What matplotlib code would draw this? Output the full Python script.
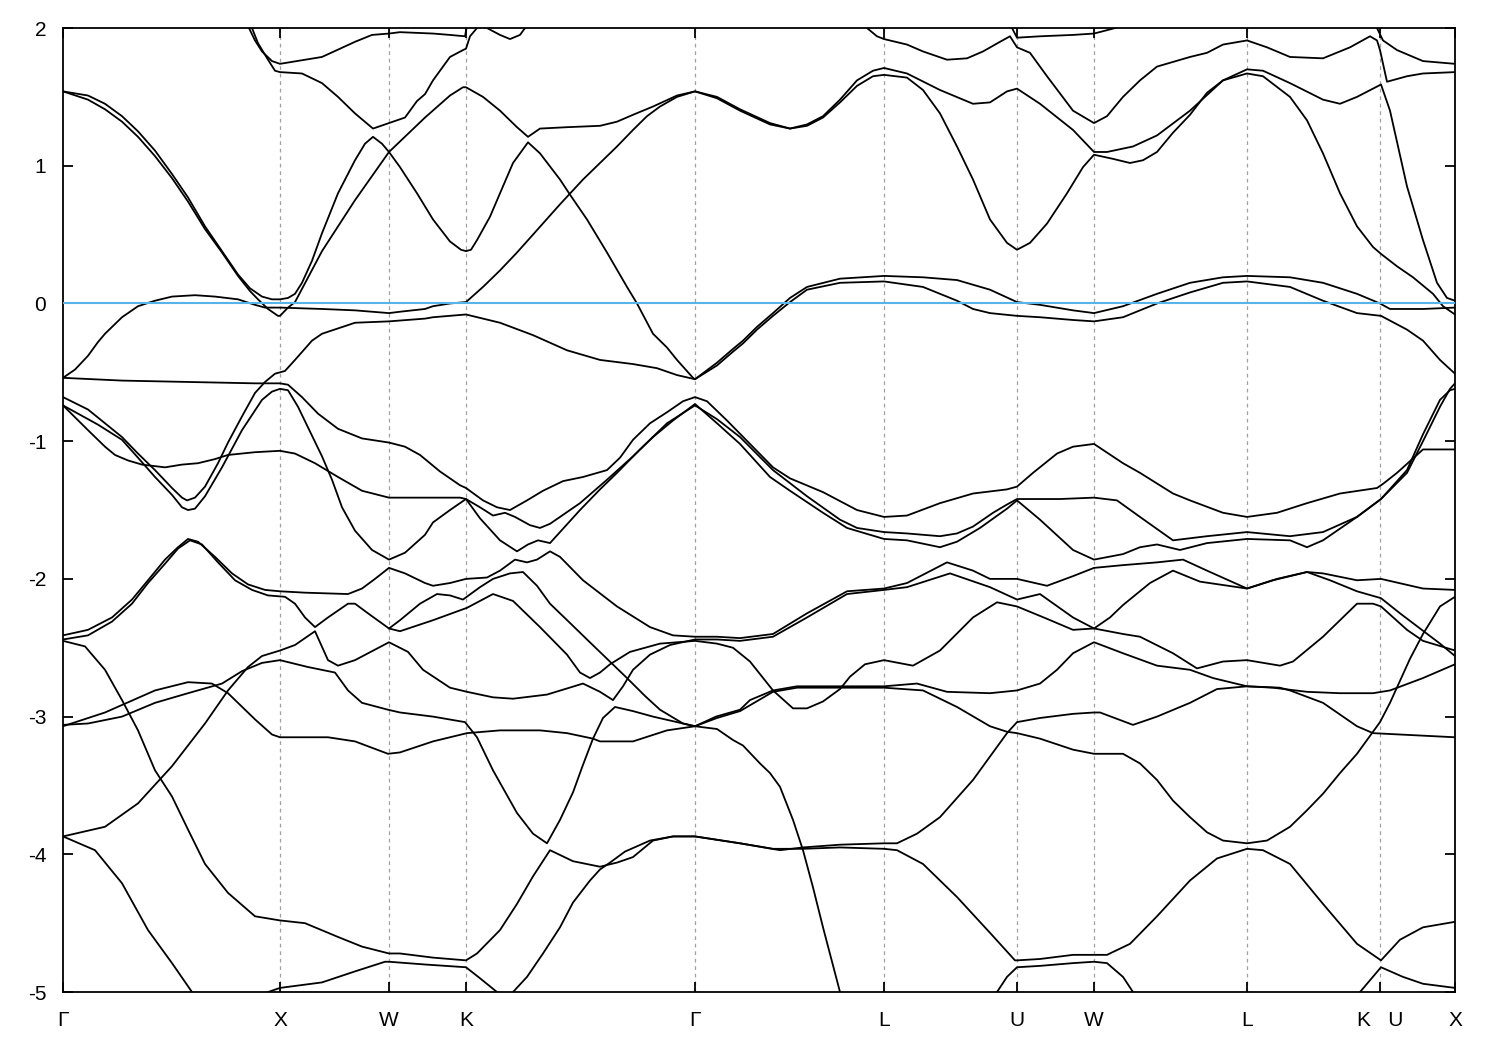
import matplotlib
matplotlib.use("Agg")
import matplotlib.pyplot as plt

plt.rcParams['font.family'] = ['Liberation Sans', 'DejaVu Sans']
plt.rcParams['axes.unicode_minus'] = False

# k-path: positions of the high-symmetry points (path distance, arb. units)
sym_pos = [0, 217, 326, 403, 632, 821, 954, 1031, 1184, 1317, 1392]
sym_labels = ['Γ', 'X', 'W', 'K', 'Γ', 'L', 'U', 'W', 'L', 'K   U', 'X']
e_ticks = [-5, -4, -3, -2, -1, 0, 1, 2]
e_fermi = 0.0

# bands: (k, E in eV)
band_01 = [(0, 1.54), (25, 1.51), (42, 1.45), (59, 1.36), (75, 1.25), (92, 1.11), (109, 0.94), (125, 0.77),
           (142, 0.56), (159, 0.38), (175, 0.21), (187, 0.11), (199, 0.05), (209, 0.03), (217, 0.03), (225, 0.04),
           (232, 0.07), (239, 0.15), (249, 0.31), (259, 0.51), (275, 0.80), (292, 1.04), (302, 1.16), (310, 1.21),
           (319, 1.16), (326, 1.10), (337, 0.99), (354, 0.80), (370, 0.61), (387, 0.45), (398, 0.39), (403, 0.38),
           (408, 0.39), (414, 0.46), (427, 0.63), (437, 0.80), (450, 1.02), (465, 1.17), (477, 1.09), (497, 0.90),
           (507, 0.79), (524, 0.61), (544, 0.37), (564, 0.12), (574, 0.0), (590, -0.22), (604, -0.32), (614, -0.41),
           (630, -0.54), (632, -0.55), (654, -0.43), (670, -0.33), (680, -0.27), (694, -0.17), (710, -0.07),
           (727, 0.04), (744, 0.12), (777, 0.18), (821, 0.20), (860, 0.19), (894, 0.17), (927, 0.10), (954, 0.01),
           (977, -0.01), (1010, -0.05), (1031, -0.07), (1060, -0.02), (1094, 0.07), (1127, 0.15), (1160, 0.19),
           (1184, 0.20), (1227, 0.19), (1260, 0.15), (1294, 0.07), (1317, 0.0), (1327, -0.04), (1360, -0.04),
           (1392, -0.03)]
band_02 = [(0, 1.54), (25, 1.48), (42, 1.41), (59, 1.32), (75, 1.21), (92, 1.07), (109, 0.91), (125, 0.74),
           (142, 0.54), (159, 0.37), (175, 0.20), (187, 0.09), (195, 0.03), (205, -0.04), (215, -0.09), (217, -0.09),
           (225, -0.03), (232, 0.01), (259, 0.38), (292, 0.75), (326, 1.10), (362, 1.35), (387, 1.51), (400, 1.57),
           (403, 1.57), (420, 1.50), (437, 1.40), (454, 1.28), (465, 1.21), (477, 1.27), (504, 1.28), (537, 1.29),
           (554, 1.32), (570, 1.37), (590, 1.43), (614, 1.51), (632, 1.54), (654, 1.49), (677, 1.40), (707, 1.30),
           (727, 1.27), (744, 1.29), (760, 1.35), (777, 1.46), (794, 1.58), (810, 1.65), (821, 1.66), (844, 1.64),
           (860, 1.55), (877, 1.38), (894, 1.14), (910, 0.90), (927, 0.61), (944, 0.44), (954, 0.39), (967, 0.44),
           (984, 0.58), (1004, 0.80), (1020, 0.99), (1031, 1.08), (1050, 1.05), (1067, 1.02), (1080, 1.04),
           (1094, 1.10), (1110, 1.24), (1127, 1.37), (1144, 1.53), (1160, 1.62), (1184, 1.67), (1200, 1.65),
           (1227, 1.50), (1244, 1.33), (1260, 1.09), (1277, 0.80), (1294, 0.56), (1310, 0.41), (1318, 0.36),
           (1334, 0.27), (1350, 0.19), (1370, 0.07), (1380, -0.02), (1392, -0.08)]
band_03 = [(0, -0.54), (12, -0.48), (25, -0.38), (35, -0.28), (42, -0.22), (59, -0.10), (75, -0.02), (92, 0.02),
           (109, 0.05), (132, 0.06), (152, 0.05), (175, 0.03), (192, -0.01), (202, -0.03), (217, -0.03), (259, -0.04),
           (292, -0.05), (326, -0.07), (337, -0.06), (362, -0.04), (370, -0.02), (387, 0.0), (403, 0.01), (420, 0.12),
           (437, 0.24), (454, 0.37), (470, 0.50), (497, 0.72), (520, 0.90), (537, 1.02), (554, 1.14), (570, 1.26),
           (584, 1.36), (597, 1.43), (614, 1.50), (632, 1.54), (654, 1.50), (677, 1.41), (707, 1.31), (727, 1.27),
           (744, 1.30), (760, 1.36), (777, 1.48), (794, 1.62), (810, 1.69), (821, 1.71), (844, 1.67), (877, 1.55),
           (910, 1.45), (927, 1.46), (944, 1.54), (954, 1.56), (977, 1.45), (1010, 1.26), (1031, 1.10), (1044, 1.10),
           (1070, 1.14), (1094, 1.22), (1127, 1.40), (1160, 1.62), (1184, 1.70), (1200, 1.69), (1227, 1.60),
           (1260, 1.48), (1277, 1.45), (1294, 1.50), (1318, 1.59), (1327, 1.40), (1344, 0.85), (1360, 0.46),
           (1374, 0.15), (1384, 0.04), (1392, 0.02)]
band_04 = [(0, -0.54), (59, -0.56), (125, -0.57), (192, -0.58), (217, -0.58), (225, -0.59), (239, -0.68),
           (255, -0.80), (275, -0.91), (299, -0.98), (326, -1.01), (342, -1.04), (357, -1.10), (377, -1.22),
           (397, -1.32), (403, -1.34), (420, -1.43), (434, -1.48), (447, -1.50), (464, -1.43), (480, -1.36),
           (500, -1.29), (520, -1.26), (544, -1.21), (557, -1.12), (570, -0.99), (587, -0.87), (604, -0.79),
           (620, -0.71), (632, -0.68), (644, -0.71), (664, -0.85), (687, -1.02), (710, -1.19), (727, -1.27),
           (760, -1.37), (794, -1.50), (821, -1.55), (844, -1.54), (877, -1.45), (910, -1.38), (944, -1.35),
           (954, -1.33), (970, -1.23), (994, -1.09), (1010, -1.04), (1031, -1.02), (1060, -1.16), (1077, -1.23),
           (1110, -1.38), (1127, -1.43), (1160, -1.52), (1184, -1.55), (1214, -1.52), (1244, -1.45), (1277, -1.38),
           (1314, -1.34), (1320, -1.31), (1334, -1.23), (1360, -1.06), (1392, -1.06)]
band_05 = [(0, -0.68), (25, -0.77), (42, -0.87), (59, -0.97), (75, -1.09), (92, -1.21), (109, -1.34), (119, -1.41),
           (124, -1.43), (132, -1.41), (142, -1.33), (155, -1.16), (165, -1.01), (179, -0.82), (192, -0.65),
           (202, -0.57), (212, -0.51), (217, -0.50), (222, -0.49), (232, -0.41), (249, -0.27), (259, -0.22),
           (292, -0.14), (326, -0.13), (362, -0.11), (370, -0.10), (403, -0.08), (420, -0.11), (437, -0.14),
           (470, -0.23), (504, -0.34), (537, -0.41), (570, -0.44), (594, -0.47), (614, -0.52), (632, -0.55),
           (654, -0.45), (670, -0.35), (680, -0.29), (694, -0.19), (710, -0.09), (727, 0.01), (744, 0.10),
           (777, 0.15), (821, 0.16), (860, 0.12), (894, 0.02), (910, -0.04), (927, -0.07), (954, -0.09),
           (977, -0.10), (1010, -0.12), (1031, -0.13), (1060, -0.10), (1094, 0.0), (1127, 0.08), (1160, 0.15),
           (1184, 0.16), (1227, 0.12), (1260, 0.02), (1294, -0.07), (1318, -0.09), (1344, -0.19), (1360, -0.27),
           (1377, -0.41), (1392, -0.51)]
band_06 = [(0, -0.74), (35, -0.88), (59, -0.99), (75, -1.12), (92, -1.26), (109, -1.39), (119, -1.48), (125, -1.50),
           (132, -1.49), (142, -1.40), (159, -1.19), (179, -0.92), (199, -0.70), (209, -0.64), (217, -0.62),
           (225, -0.63), (235, -0.75), (245, -0.90), (259, -1.11), (269, -1.28), (279, -1.48), (292, -1.65),
           (309, -1.79), (326, -1.86), (342, -1.81), (362, -1.68), (370, -1.59), (387, -1.50), (403, -1.42),
           (417, -1.56), (437, -1.72), (454, -1.80), (465, -1.75), (475, -1.72), (487, -1.74), (502, -1.62),
           (517, -1.50), (537, -1.35), (554, -1.23), (577, -1.06), (604, -0.87), (632, -0.74), (654, -0.84),
           (677, -0.97), (710, -1.21), (744, -1.40), (777, -1.57), (794, -1.63), (821, -1.66), (844, -1.67),
           (877, -1.69), (894, -1.67), (910, -1.62), (930, -1.52), (944, -1.46), (954, -1.42), (997, -1.42),
           (1031, -1.41), (1054, -1.43), (1077, -1.55), (1110, -1.72), (1144, -1.69), (1184, -1.66), (1227, -1.69),
           (1260, -1.66), (1294, -1.55), (1318, -1.42), (1344, -1.23), (1360, -1.00), (1377, -0.75), (1387, -0.62),
           (1392, -0.58)]
band_07 = [(0, -0.74), (25, -0.92), (42, -1.04), (52, -1.10), (65, -1.14), (79, -1.17), (102, -1.19), (119, -1.17),
           (135, -1.16), (152, -1.13), (165, -1.10), (192, -1.08), (217, -1.07), (232, -1.09), (252, -1.16),
           (275, -1.26), (299, -1.36), (326, -1.41), (362, -1.41), (397, -1.41), (403, -1.42), (417, -1.48),
           (430, -1.54), (442, -1.52), (452, -1.55), (467, -1.61), (477, -1.63), (487, -1.60), (497, -1.55),
           (517, -1.45), (544, -1.28), (570, -1.11), (590, -0.97), (610, -0.85), (632, -0.73), (654, -0.87),
           (677, -1.02), (707, -1.26), (727, -1.36), (760, -1.52), (784, -1.63), (821, -1.71), (844, -1.72),
           (877, -1.77), (894, -1.73), (917, -1.63), (944, -1.49), (954, -1.43), (977, -1.57), (1010, -1.79),
           (1031, -1.86), (1060, -1.82), (1077, -1.77), (1094, -1.75), (1117, -1.79), (1144, -1.74), (1184, -1.71),
           (1227, -1.72), (1244, -1.77), (1260, -1.72), (1294, -1.55), (1318, -1.42), (1344, -1.21), (1360, -0.95),
           (1377, -0.70), (1387, -0.63), (1392, -0.62)]
band_08 = [(186, 2.0), (192, 1.91), (199, 1.83), (209, 1.76), (217, 1.74), (259, 1.79), (292, 1.90), (309, 1.95),
           (326, 1.96), (337, 1.97), (370, 1.96), (387, 1.95), (402, 1.94), (404, 2.02)]
band_09 = [(189, 2.0), (195, 1.89), (205, 1.77), (212, 1.69), (217, 1.68), (239, 1.67), (259, 1.60), (275, 1.50),
           (292, 1.38), (310, 1.27), (326, 1.31), (342, 1.35), (354, 1.47), (362, 1.52), (370, 1.62), (387, 1.79),
           (400, 1.84), (403, 1.85), (407, 1.94), (414, 2.0)]
band_10 = [(424, 2.0), (437, 1.95), (447, 1.92), (457, 1.95), (462, 2.0)]
band_11 = [(804, 2.0), (814, 1.94), (821, 1.92), (844, 1.88), (860, 1.83), (884, 1.77), (904, 1.78), (920, 1.83),
           (937, 1.90), (947, 1.94), (954, 1.86), (967, 1.82), (984, 1.65), (1010, 1.40), (1031, 1.31), (1044, 1.36),
           (1060, 1.50), (1077, 1.62), (1094, 1.72), (1127, 1.79), (1144, 1.82), (1160, 1.88), (1184, 1.91),
           (1204, 1.86), (1227, 1.79), (1260, 1.78), (1287, 1.86), (1307, 1.94), (1314, 1.91), (1317, 1.84),
           (1324, 1.61), (1344, 1.65), (1360, 1.67), (1392, 1.68)]
band_12 = [(949, 2.0), (954, 1.93), (977, 1.94), (1010, 1.95), (1031, 1.96), (1047, 1.99), (1052, 2.0)]
band_13 = [(1314, 2.0), (1320, 1.91), (1334, 1.84), (1360, 1.76), (1392, 1.74)]
band_14 = [(0, -2.41), (25, -2.37), (49, -2.28), (69, -2.15), (85, -2.01), (102, -1.86), (115, -1.77), (125, -1.71),
           (135, -1.73), (152, -1.84), (169, -1.96), (185, -2.04), (202, -2.08), (217, -2.09), (242, -2.10),
           (285, -2.11), (299, -2.07), (312, -2.00), (326, -1.92), (342, -1.96), (362, -2.03), (370, -2.05),
           (387, -2.03), (403, -2.00), (424, -1.99), (437, -1.94), (452, -1.86), (464, -1.88), (474, -1.86),
           (487, -1.80), (497, -1.84), (520, -2.01), (554, -2.20), (587, -2.35), (610, -2.41), (632, -2.42),
           (654, -2.42), (677, -2.43), (710, -2.40), (744, -2.25), (784, -2.09), (821, -2.07), (844, -2.03),
           (884, -1.88), (910, -1.94), (927, -2.00), (954, -2.00), (984, -2.05), (1010, -1.98), (1031, -1.92),
           (1060, -1.90), (1094, -1.88), (1120, -1.86), (1144, -1.94), (1184, -2.07), (1210, -2.01), (1244, -1.95),
           (1260, -1.96), (1294, -2.01), (1318, -2.00), (1360, -2.07), (1392, -2.08)]
band_15 = [(0, -2.44), (25, -2.41), (49, -2.31), (69, -2.18), (85, -2.03), (102, -1.89), (115, -1.78), (127, -1.72),
           (139, -1.75), (155, -1.88), (172, -2.01), (189, -2.08), (205, -2.12), (222, -2.13), (232, -2.18),
           (242, -2.28), (252, -2.35), (265, -2.28), (285, -2.18), (292, -2.18), (305, -2.25), (326, -2.36),
           (337, -2.38), (370, -2.30), (404, -2.21), (430, -2.11), (450, -2.16), (477, -2.35), (504, -2.55),
           (517, -2.68), (527, -2.72), (537, -2.68), (547, -2.62), (567, -2.53), (597, -2.47), (632, -2.45),
           (654, -2.47), (670, -2.50), (687, -2.60), (710, -2.81), (730, -2.94), (744, -2.94), (760, -2.89),
           (777, -2.80), (787, -2.71), (802, -2.62), (821, -2.59), (850, -2.63), (877, -2.52), (910, -2.28),
           (934, -2.17), (954, -2.20), (984, -2.29), (1010, -2.37), (1031, -2.36), (1047, -2.28), (1060, -2.19),
           (1087, -2.03), (1110, -1.94), (1137, -2.02), (1184, -2.07), (1214, -2.00), (1244, -1.95), (1267, -2.01),
           (1294, -2.09), (1318, -2.14), (1337, -2.25), (1357, -2.36), (1377, -2.47), (1392, -2.56)]
band_16 = [(0, -2.45), (22, -2.49), (42, -2.66), (59, -2.88), (75, -3.10), (92, -3.39), (109, -3.58), (125, -3.82),
           (142, -4.07), (165, -4.28), (192, -4.45), (217, -4.48), (242, -4.50), (275, -4.60), (299, -4.67),
           (326, -4.72), (337, -4.72), (370, -4.75), (403, -4.77), (414, -4.72), (437, -4.55), (454, -4.36),
           (470, -4.16), (487, -3.97), (510, -4.05), (537, -4.09), (554, -4.06), (570, -4.02), (590, -3.90),
           (610, -3.87), (632, -3.87), (677, -3.92), (710, -3.96), (740, -3.96), (777, -3.95), (821, -3.96),
           (834, -3.97), (860, -4.07), (894, -4.31), (927, -4.57), (952, -4.77), (954, -4.77), (977, -4.76),
           (1010, -4.73), (1031, -4.73), (1044, -4.73), (1067, -4.65), (1094, -4.45), (1127, -4.19), (1154, -4.03),
           (1184, -3.96), (1200, -3.97), (1227, -4.07), (1260, -4.36), (1294, -4.65), (1318, -4.77), (1337, -4.62),
           (1360, -4.53), (1392, -4.49)]
band_17 = [(205, -5.0), (217, -4.97), (259, -4.93), (292, -4.85), (322, -4.78), (326, -4.78), (362, -4.80),
           (403, -4.82), (417, -4.90), (434, -5.0)]
band_18 = [(450, -5.0), (464, -4.89), (480, -4.72), (497, -4.53), (510, -4.35), (527, -4.19), (537, -4.11),
           (547, -4.06), (562, -3.98), (587, -3.90), (610, -3.87), (632, -3.87), (677, -3.92), (717, -3.97),
           (740, -3.95), (777, -3.93), (821, -3.92), (834, -3.92), (854, -3.85), (877, -3.73), (910, -3.46),
           (944, -3.12), (954, -3.04), (977, -3.01), (1010, -2.98), (1031, -2.97), (1037, -2.97), (1070, -3.06),
           (1094, -3.00), (1127, -2.90), (1154, -2.80), (1184, -2.78), (1210, -2.79), (1244, -2.82), (1277, -2.83),
           (1310, -2.83), (1327, -2.81), (1360, -2.72), (1392, -2.62)]
band_19 = [(934, -5.0), (944, -4.89), (954, -4.82), (977, -4.81), (1010, -4.79), (1031, -4.78), (1044, -4.79),
           (1060, -4.89), (1070, -5.0)]
band_20 = [(1297, -5.0), (1318, -4.82), (1340, -4.89), (1360, -4.94), (1392, -4.97)]
band_21 = [(0, -3.87), (32, -3.97), (59, -4.21), (85, -4.55), (109, -4.79), (129, -5.0)]
band_22 = [(0, -3.87), (42, -3.80), (75, -3.63), (109, -3.36), (142, -3.05), (165, -2.81), (185, -2.64),
           (199, -2.56), (217, -2.52), (232, -2.48), (252, -2.38), (265, -2.59), (275, -2.63), (292, -2.59),
           (326, -2.46), (345, -2.53), (360, -2.66), (387, -2.79), (404, -2.82), (430, -2.86), (450, -2.87),
           (484, -2.84), (520, -2.76), (537, -2.82), (550, -2.88), (560, -2.78), (570, -2.66), (587, -2.55),
           (607, -2.48), (632, -2.44), (654, -2.44), (677, -2.45), (710, -2.42), (744, -2.28), (784, -2.11),
           (821, -2.08), (844, -2.06), (887, -1.96), (927, -2.06), (954, -2.15), (977, -2.11), (1010, -2.28),
           (1031, -2.36), (1060, -2.40), (1077, -2.42), (1110, -2.54), (1134, -2.65), (1160, -2.60), (1184, -2.59),
           (1217, -2.63), (1230, -2.60), (1260, -2.42), (1294, -2.18), (1310, -2.18), (1318, -2.20), (1344, -2.37),
           (1360, -2.45), (1392, -2.52)]
band_23 = [(0, -3.06), (25, -3.05), (59, -3.00), (92, -2.90), (125, -2.83), (159, -2.76), (179, -2.67),
           (199, -2.61), (217, -2.59), (245, -2.64), (272, -2.68), (285, -2.81), (299, -2.90), (325, -2.95),
           (337, -2.97), (370, -3.00), (402, -3.04), (414, -3.15), (430, -3.39), (454, -3.70), (470, -3.85),
           (484, -3.92), (497, -3.75), (510, -3.55), (520, -3.35), (530, -3.16), (537, -3.18), (570, -3.18),
           (604, -3.10), (632, -3.07), (654, -3.09), (670, -3.17), (680, -3.21), (697, -3.34), (707, -3.41),
           (717, -3.51), (730, -3.75), (740, -3.97), (750, -4.24), (760, -4.53), (777, -5.0)]
band_24 = [(0, -3.07), (42, -2.97), (92, -2.81), (125, -2.75), (149, -2.76), (165, -2.83), (192, -3.02),
           (209, -3.13), (217, -3.15), (265, -3.15), (292, -3.18), (325, -3.27), (337, -3.26), (370, -3.18),
           (404, -3.12), (437, -3.10), (477, -3.10), (504, -3.12), (530, -3.16), (540, -3.01), (552, -2.93),
           (570, -2.96), (590, -3.00), (620, -3.05), (632, -3.07), (654, -3.01), (677, -2.96), (710, -2.82),
           (734, -2.79), (777, -2.79), (821, -2.79), (860, -2.81), (894, -2.93), (927, -3.07), (944, -3.11),
           (954, -3.12), (977, -3.16), (1010, -3.24), (1031, -3.27), (1060, -3.27), (1077, -3.34), (1094, -3.46),
           (1110, -3.61), (1127, -3.73), (1144, -3.84), (1160, -3.90), (1184, -3.92), (1204, -3.90), (1227, -3.80),
           (1244, -3.68), (1260, -3.56), (1277, -3.41), (1294, -3.27), (1310, -3.11), (1317, -3.04), (1327, -2.90),
           (1337, -2.74), (1347, -2.58), (1360, -2.40), (1377, -2.20), (1392, -2.13)]
band_25 = [(326, -2.36), (337, -2.30), (357, -2.18), (374, -2.11), (387, -2.12), (400, -2.15), (417, -2.06),
           (430, -2.00), (447, -1.96), (460, -1.95), (474, -2.05), (487, -2.18), (507, -2.32), (524, -2.44),
           (544, -2.58), (564, -2.72), (582, -2.85), (597, -2.95), (620, -3.05), (632, -3.07), (653, -3.00),
           (677, -2.95), (687, -2.88), (710, -2.81), (734, -2.78), (777, -2.78), (821, -2.78), (854, -2.76),
           (884, -2.82), (927, -2.83), (954, -2.81), (977, -2.76), (994, -2.66), (1010, -2.54), (1031, -2.46),
           (1060, -2.54), (1094, -2.63), (1127, -2.66), (1150, -2.72), (1184, -2.78), (1217, -2.79), (1227, -2.81),
           (1260, -2.90), (1294, -3.07), (1310, -3.12), (1337, -3.13), (1392, -3.15)]

bands = [band_01, band_02, band_03, band_04, band_05, band_06, band_07, band_08, band_09, band_10,
         band_11, band_12, band_13, band_14, band_15, band_16, band_17, band_18, band_19, band_20,
         band_21, band_22, band_23, band_24, band_25]

fig = plt.figure(figsize=(15, 10.5), dpi=100)
ax = fig.add_axes([0.042, 0.0552, 0.928, 0.9181])

# dashed guides at the inner high-symmetry points
for p in sym_pos[1:-1]:
    ax.axvline(p, color='#a0a0a0', lw=0.9, ls=(0, (3, 3)), zorder=1)

for b in bands:
    k = [p[0] for p in b]
    e = [p[1] for p in b]
    ax.plot(k, e, color='black', lw=1.3, zorder=2, solid_joinstyle='round')

ax.axhline(e_fermi, color='#56b4e9', lw=1.5, zorder=3)

ax.set_xlim(sym_pos[0], sym_pos[-1])
ax.set_ylim(-5, 2)
ax.set_xticks(sym_pos)
ax.set_xticklabels(sym_labels)
ax.set_yticks(e_ticks)
ax.set_yticklabels([str(t) for t in e_ticks])
ax.tick_params(axis='both', direction='in', length=7, width=1.3, labelsize=15,
               top=True, right=True)
ax.tick_params(axis='x', pad=14)
ax.tick_params(axis='y', pad=12)
for s in ax.spines.values():
    s.set_linewidth(1.3)

fig.savefig('out.png', dpi=100)
